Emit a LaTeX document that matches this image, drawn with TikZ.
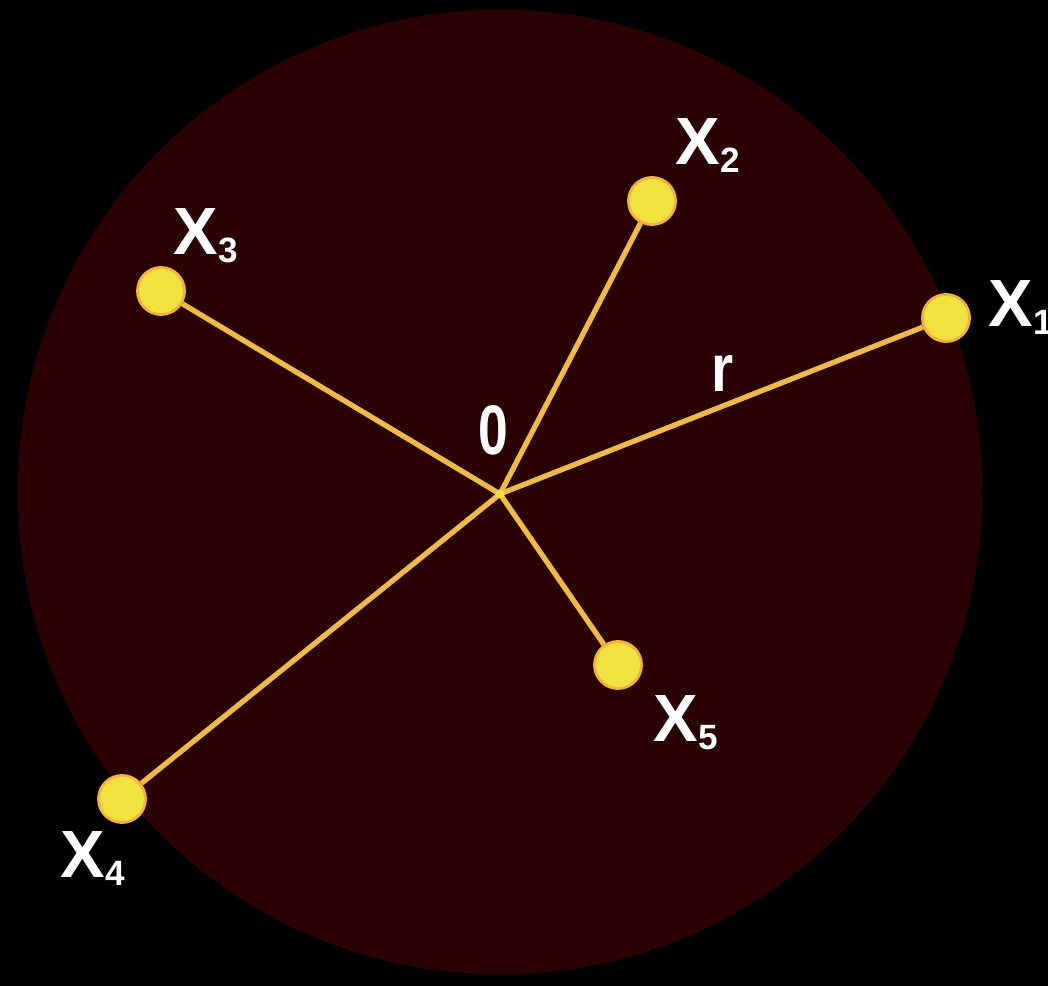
\documentclass[tikz,border=0pt]{standalone}
\usepackage{fontspec}
\setmainfont{Liberation Sans}
\usepackage{tikz}
\usetikzlibrary{positioning}
\definecolor{discred}{RGB}{42,2,4}
\definecolor{spoke}{RGB}{240,186,72}
\definecolor{dotyellow}{RGB}{242,226,64}
\newcommand{\ssub}[1]{\raisebox{-2pt}{\fontsize{10}{10}\selectfont #1}}

\begin{document}
\begin{tikzpicture}[x=0.01cm, y=-0.01cm,
  pnt/.style={circle, fill=dotyellow, draw=spoke!90!orange, line width=0.8pt, minimum size=0.47cm, inner sep=0pt},
  lbl/.style={text=white, inner sep=0pt, font=\fontsize{19}{19}\selectfont\bfseries},
  ray/.style={spoke, line width=1.5pt}
]
  % background and disc
  \fill[black] (0,0) rectangle (1048,986);
  \useasboundingbox (0,0) rectangle (1048,986);
  \fill[discred] (500,492) circle [radius=4.82cm];

  % centre and points
  \coordinate (o) at (500,494);
  \node[pnt] (x1) at (946,318) {};
  \node[pnt] (x2) at (652,201) {};
  \node[pnt] (x3) at (161,291) {};
  \node[pnt] (x4) at (122,799) {};
  \node[pnt] (x5) at (618,665) {};

  \draw[ray] (o) -- (x1);
  \draw[ray] (o) -- (x2);
  \draw[ray] (o) -- (x3);
  \draw[ray] (o) -- (x4);
  \draw[ray] (o) -- (x5);
  \fill[dotyellow] (o) circle [radius=0.045cm];

  % labels
  \node[lbl, anchor=base west] (l1) at (988,327) {X\ssub{1}};
  \node[lbl, anchor=base west] (l2) at (675,165) {X\ssub{2}};
  \node[lbl, anchor=base west] (l3) at (173,255) {X\ssub{3}};
  \node[lbl, anchor=base west] (l4) at (60,878) {X\ssub{4}};
  \node[lbl, anchor=base west] (l5) at (653,742) {X\ssub{5}};
  \node[lbl, anchor=base] (lo) at (493,455) {\scalebox{0.8}[1.05]{0}};
  \node[lbl, anchor=base] (lr) at (723,392) {\scalebox{0.85}[1]{r}};
\end{tikzpicture}
\end{document}
